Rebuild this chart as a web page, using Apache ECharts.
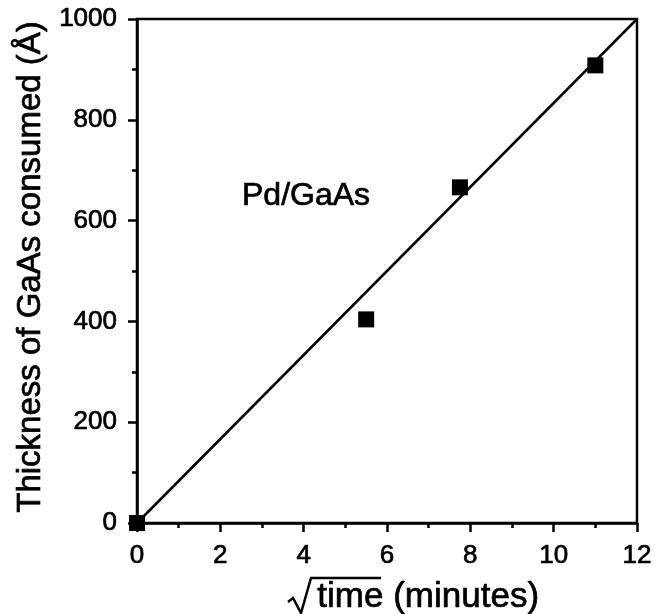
<!DOCTYPE html>
<html>
<head>
<meta charset="utf-8">
<script src="https://cdn.jsdelivr.net/npm/echarts@6/dist/echarts.min.js"></script>
<style>
html,body{margin:0;padding:0;background:#fff;}
#chart{width:658px;height:614px;}
</style>
</head>
<body>
<div id="chart"></div>
<script>
// Measured points: sqrt(time) in minutes^0.5, thickness in Å
var sqrtTime = [0, 5.5, 7.75, 11.0];
var thickness = [0, 404, 666, 908];
// Fitted line endpoints
var fitX = [0, 12];
var fitY = [0, 1000];
// Axis ranges / ticks
var xMin = 0, xMax = 12, xStep = 2;
var yMin = 0, yMax = 1000, yStep = 200;
// Annotation
var annotText = 'Pd/GaAs';
var annotPos = [2.52, 649];

var FONT = '"Liberation Sans", Arial, Helvetica, sans-serif';
var chart = echarts.init(document.getElementById('chart'));

var pts = sqrtTime.map(function (x, i) { return [x, thickness[i]]; });
var fit = fitX.map(function (x, i) { return [x, fitY[i]]; });

var heavy = { textBorderColor: '#000', textBorderWidth: 0.7 };

var axisCommon = {
  type: 'value',
  splitLine: { show: false },
  axisLine: { show: true, lineStyle: { color: '#000', width: 2.5 } },
  axisTick: { show: true, inside: false, length: 9, lineStyle: { color: '#000', width: 2.5 } },
  minorTick: { show: true, splitNumber: 2, length: 5, lineStyle: { color: '#000', width: 2.5 } },
  minorSplitLine: { show: false },
  axisLabel: Object.assign({ color: '#000', fontSize: 26, fontFamily: FONT, margin: 20,
    formatter: function (v) { return String(v); } }, heavy)
};

var option = {
  animation: false,
  backgroundColor: '#fff',
  grid: {
    left: 137, right: 21, top: 19, bottom: 91,
    show: true, borderColor: '#000', borderWidth: 2.5, backgroundColor: 'transparent'
  },
  xAxis: Object.assign({}, axisCommon, {
    min: xMin, max: xMax, interval: xStep
  }),
  yAxis: Object.assign({}, axisCommon, {
    min: yMin, max: yMax, interval: yStep,
    name: 'Thickness of GaAs consumed (Å)',
    nameLocation: 'middle',
    nameGap: 87,
    nameTextStyle: Object.assign({ color: '#000', fontSize: 33, fontFamily: FONT, padding: [0, 0, 0, 8] }, heavy)
  }),
  graphic: [
    {
      type: 'polyline',
      shape: { points: [[288, 602], [293, 598], [301, 613], [311, 578], [381, 578]] },
      style: { stroke: '#000', lineWidth: 2.5, fill: null },
      z: 100
    },
    {
      type: 'text',
      left: 317,
      top: 579,
      style: { text: 'time (minutes)', fill: '#000', stroke: '#000', lineWidth: 0.7,
        fontSize: 35, fontFamily: FONT },
      z: 100
    }
  ],
  series: [
    {
      type: 'line',
      data: fit,
      symbol: 'none',
      lineStyle: { color: '#000', width: 2.5 },
      z: 2
    },
    {
      type: 'scatter',
      data: pts,
      symbol: 'rect',
      symbolSize: 16,
      itemStyle: { color: '#000', opacity: 1 },
      clip: false,
      z: 3
    },
    {
      type: 'scatter',
      data: [annotPos],
      symbolSize: 0,
      silent: true,
      itemStyle: { opacity: 1 },
      label: Object.assign({
        show: true, position: 'right', distance: 0,
        formatter: annotText, color: '#000', fontSize: 32, fontFamily: FONT
      }, heavy)
    }
  ]
};
chart.setOption(option);
</script>
</body>
</html>
